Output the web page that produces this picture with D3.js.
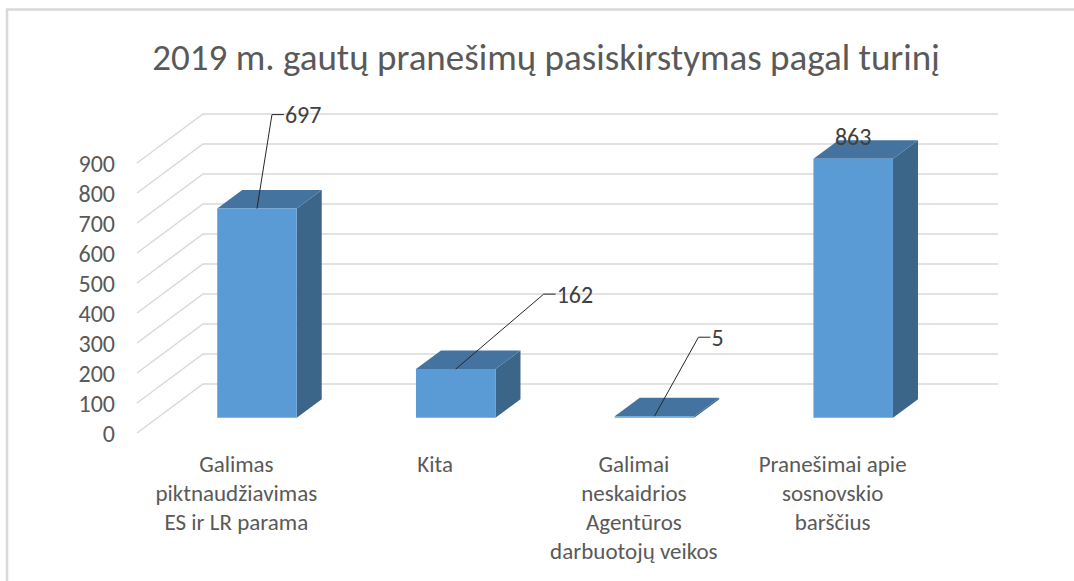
<!DOCTYPE html>
<html>
<head>
<meta charset="utf-8">
<script src="https://cdn.jsdelivr.net/npm/d3@7"></script>
<style>
  body { margin: 0; background: #fff; }
  svg { display: block; font-family: Carlito, Calibri, Lato, sans-serif; }
</style>
</head>
<body>
<div id="chart"></div>
<script>
// chart data
const title = "2019 m. gautų pranešimų pasiskirstymas pagal turinį";
const categoryLines = [
    ["Galimas", "piktnaudžiavimas", "ES ir LR parama"],
    ["Kita"],
    ["Galimai", "neskaidrios", "Agentūros", "darbuotojų veikos"],
    ["Pranešimai apie", "sosnovskio", "barščius"]
];
const categories = categoryLines.map(l => l.join(" "));
const values = [697, 162, 5, 863];
const yTicks = [0, 100, 200, 300, 400, 500, 600, 700, 800, 900];

// hand placed data labels (px from the bar's front top edge), null = sits on bar
const labelOffsets = [[15, -94], [88, -75], [44, -79], null];

function drawChart(container) {
    const width = 1074;
    const height = 581;

    d3.select(container).html("");

    const svg = d3.select(container)
        .append("svg")
        .attr("width", width)
        .attr("height", height);

    // outer frame
    svg.append("rect")
        .attr("x", 7).attr("y", 9.5)
        .attr("width", 1200).attr("height", 700)
        .attr("fill", "none")
        .attr("stroke", "#d9d9d9")
        .attr("stroke-width", 2.5);

    svg.append("text")
        .attr("x", 546).attr("y", 57)
        .attr("text-anchor", "middle")
        .attr("dominant-baseline", "central")
        .style("font-size", "37px")
        .style("fill", "#595959")
        .text(title);

    // back wall scales, depth goes toward the viewer
    const x = d3.scaleBand()
        .domain(categories)
        .range([203, 998]);

    const y = d3.scaleLinear()
        .domain([0, 900])
        .range([384, 114]);

    const depth = { dx: -66, dy: 49 };
    const proj = (px, py, z) => [px + depth.dx * z, py + depth.dy * z];

    // gridlines: side wall diagonal + back wall
    const grid = svg.append("g");
    yTicks.forEach(t => {
        const f = proj(x.range()[0], y(t), 1);
        grid.append("polyline")
            .attr("points", `${f[0]},${f[1]} ${x.range()[0]},${y(t)} ${x.range()[1]},${y(t)}`)
            .attr("fill", "none")
            .attr("stroke", "#d9d9d9")
            .attr("stroke-width", 1.5);
    });

    // y tick labels on the front edge
    svg.append("g")
        .selectAll("text")
        .data(yTicks)
        .enter()
        .append("text")
        .attr("x", 115)
        .attr("y", d => y(d) + depth.dy)
        .attr("text-anchor", "end")
        .attr("dominant-baseline", "central")
        .style("font-size", "24px")
        .style("fill", "#595959")
        .text(d => d);

    // bars
    const zFront = 0.688, zBack = 0.309;
    const barW = x.bandwidth() * 0.4;

    const bars = svg.append("g")
        .selectAll("g")
        .data(categories.map((c, i) => ({ c, v: values[i], i })))
        .enter()
        .append("g");

    function barGeom(d) {
        const cx = x(d.c) + x.bandwidth() / 2;
        const x0 = cx - barW / 2, x1 = cx + barW / 2;
        const yb = y(0), yt = y(d.v);
        return {
            fbl: proj(x0, yb, zFront), fbr: proj(x1, yb, zFront),
            ftl: proj(x0, yt, zFront), ftr: proj(x1, yt, zFront),
            bbr: proj(x1, yb, zBack),
            btl: proj(x0, yt, zBack), btr: proj(x1, yt, zBack)
        };
    }
    const pts = a => a.map(p => p.join(",")).join(" ");

    bars.append("polygon")
        .attr("points", d => { const g = barGeom(d); return pts([g.fbr, g.bbr, g.btr, g.ftr]); })
        .attr("fill", "#3b6589");

    bars.append("polygon")
        .attr("points", d => { const g = barGeom(d); return pts([g.ftl, g.ftr, g.btr, g.btl]); })
        .attr("fill", "#44739f");

    bars.append("polygon")
        .attr("points", d => { const g = barGeom(d); return pts([g.fbl, g.fbr, g.ftr, g.ftl]); })
        .attr("fill", "#5b9bd5");

    // data labels with leader lines
    bars.each(function (d) {
        const g = barGeom(d);
        const ax = (g.ftl[0] + g.ftr[0]) / 2, ay = g.ftl[1];
        const sel = d3.select(this);
        const off = labelOffsets[d.i];
        if (off) {
            const ex = ax + off[0], ey = ay + off[1];
            sel.append("polyline")
                .attr("points", `${ax},${ay} ${ex},${ey} ${ex + 12},${ey}`)
                .attr("fill", "none")
                .attr("stroke", "#262626")
                .attr("stroke-width", 1);
            sel.append("text")
                .attr("x", ex + 13).attr("y", ey)
                .attr("dominant-baseline", "central")
                .style("font-size", "24px")
                .style("fill", "#404040")
                .text(d.v);
        } else {
            sel.append("text")
                .attr("x", ax).attr("y", ay - 22)
                .attr("text-anchor", "middle")
                .attr("dominant-baseline", "central")
                .style("font-size", "24px")
                .style("fill", "#404040")
                .text(d.v);
        }
    });

    // category labels on the front plane
    svg.append("g")
        .selectAll("text")
        .data(categories.map((c, i) => ({ c, lines: categoryLines[i] })))
        .enter()
        .append("text")
        .attr("text-anchor", "middle")
        .style("font-size", "23px")
        .style("fill", "#595959")
        .each(function (d) {
            const cx = x(d.c) + x.bandwidth() / 2 + depth.dx;
            d3.select(this).selectAll("tspan")
                .data(d.lines)
                .enter()
                .append("tspan")
                .attr("x", cx)
                .attr("y", (l, j) => 464 + j * 29)
                .attr("dominant-baseline", "central")
                .text(l => l);
        });
}

drawChart("#chart");
</script>
</body>
</html>
